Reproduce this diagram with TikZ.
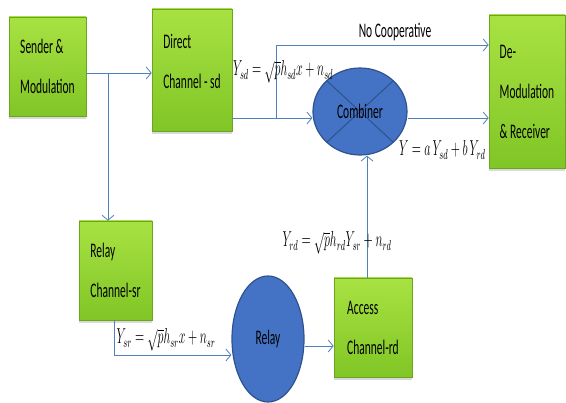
\documentclass[tikz,border=0pt]{standalone}
\usepackage{fontspec}
\setmainfont{Carlito}
\usepackage{graphicx}
\usetikzlibrary{arrows.meta,shadows,shapes.geometric}

\definecolor{boxtop}{RGB}{168,226,66}
\definecolor{boxbot}{RGB}{128,198,38}
\definecolor{boxedge}{RGB}{108,164,34}
\definecolor{ballfill}{RGB}{68,114,196}
\definecolor{balledge}{RGB}{47,82,143}
\definecolor{wireblue}{RGB}{79,129,189}

\newcommand{\tallt}[1]{\scalebox{1}[1.8]{#1}}

\begin{document}
\begin{tikzpicture}[x=1pt,y=-1pt,
    block/.style={rectangle, draw=boxedge, line width=0.6pt, top color=boxtop, bottom color=boxbot,
      drop shadow={opacity=0.3, shadow xshift=0pt, shadow yshift=-3pt},
      align=left, font=\fontsize{11.5}{40}\selectfont, inner sep=0pt},
    ball/.style={ellipse, draw=balledge, line width=1.2pt, fill=ballfill, inner sep=0pt,
      font=\fontsize{11.5}{14}\selectfont},
    wire/.style={draw=wireblue, line width=0.8pt},
    arr/.style={wire, -{Straight Barb[length=5pt,width=12pt]}},
    eq/.style={font=\fontsize{12}{14}\selectfont, inner sep=0pt}]
	\useasboundingbox (0,0) rectangle (566,403);
	
	% blocks
	\node[block, minimum width=77pt, minimum height=99pt] (send) at (47.5,66.5) {\tallt{Sender \&}\\\tallt{Modulation}};
	\node[block, minimum width=80pt, minimum height=122pt] (direct) at (192,70) {\tallt{Direct}\\\tallt{Channel - sd}\\[-22pt]\mbox{}};
	\node[block, minimum width=76pt, minimum height=153pt] (demod) at (527,91.5) {\tallt{De-}\\\tallt{Modulation}\\\tallt{\& Receiver}};
	\node[block, minimum width=73pt, minimum height=99pt] (relaych) at (115.5,270.5) {\tallt{Relay}\\\tallt{Channel-sr}};
	\node[block, minimum width=78pt, minimum height=99pt] (access) at (373,327.5) {\tallt{Access}\\\tallt{Channel-rd}};
	
	% combiner and relay
	\node[ball, minimum width=94pt, minimum height=87pt,
	  path picture={\draw[balledge, line width=1pt]
	    (path picture bounding box.north west) -- (path picture bounding box.south east)
	    (path picture bounding box.north east) -- (path picture bounding box.south west);}]
	  (comb) at (360,111.5) {\tallt{Combiner}};
	\node[ball, minimum width=72pt, minimum height=126pt] (relay) at (268,339) {\tallt{Relay}};
	
	% joints
	\coordinate (j1) at (108,73);
	\coordinate (j2) at (276,118);
	\coordinate (j3) at (276,45);
	\coordinate (j4) at (367,0);
	\coordinate (j5) at (114,355);
	\coordinate (j6) at (0,346);
	
	% connectors
	\draw[arr] (send.east |- j1) -- (direct.west |- j1);
	\draw[arr] (j1) -- (relaych.north -| j1);
	\draw[arr] (direct.east |- j2) -- (comb.west |- j2);
	\draw[arr] (j2) -- (j3) -- (demod.west |- j3);
	\draw[arr] (comb.east |- j2) -- (demod.west |- j2);
	\draw[arr] (access.north -| j4) -- (comb.south -| j4);
	\draw[arr] (relaych.south -| j5) -- (j5) -- (relay.west |- j5);
	\draw[arr] (relay.east |- j6) -- (access.west |- j6);
	
	% labels
	\node[font=\fontsize{11.5}{14}\selectfont] (nocoop) at (395,32) {\tallt{No Cooperative}};
	\node[eq, anchor=west] (eqsd) at (233,72) {\tallt{$Y_{sd} = \sqrt{p}h_{sd}x + n_{sd}$}};
	\node[eq, anchor=west] (eqy) at (399,150) {\tallt{$Y = a\,Y_{sd} + b\,Y_{rd}$}};
	\node[eq] (eqrd) at (337,243) {\tallt{$Y_{rd} = \sqrt{p}h_{rd}Y_{sr} + n_{rd}$}};
	\node[eq] (eqsr) at (166,340) {\tallt{$Y_{sr} = \sqrt{p}h_{sr}x + n_{sr}$}};
\end{tikzpicture}
\end{document}
